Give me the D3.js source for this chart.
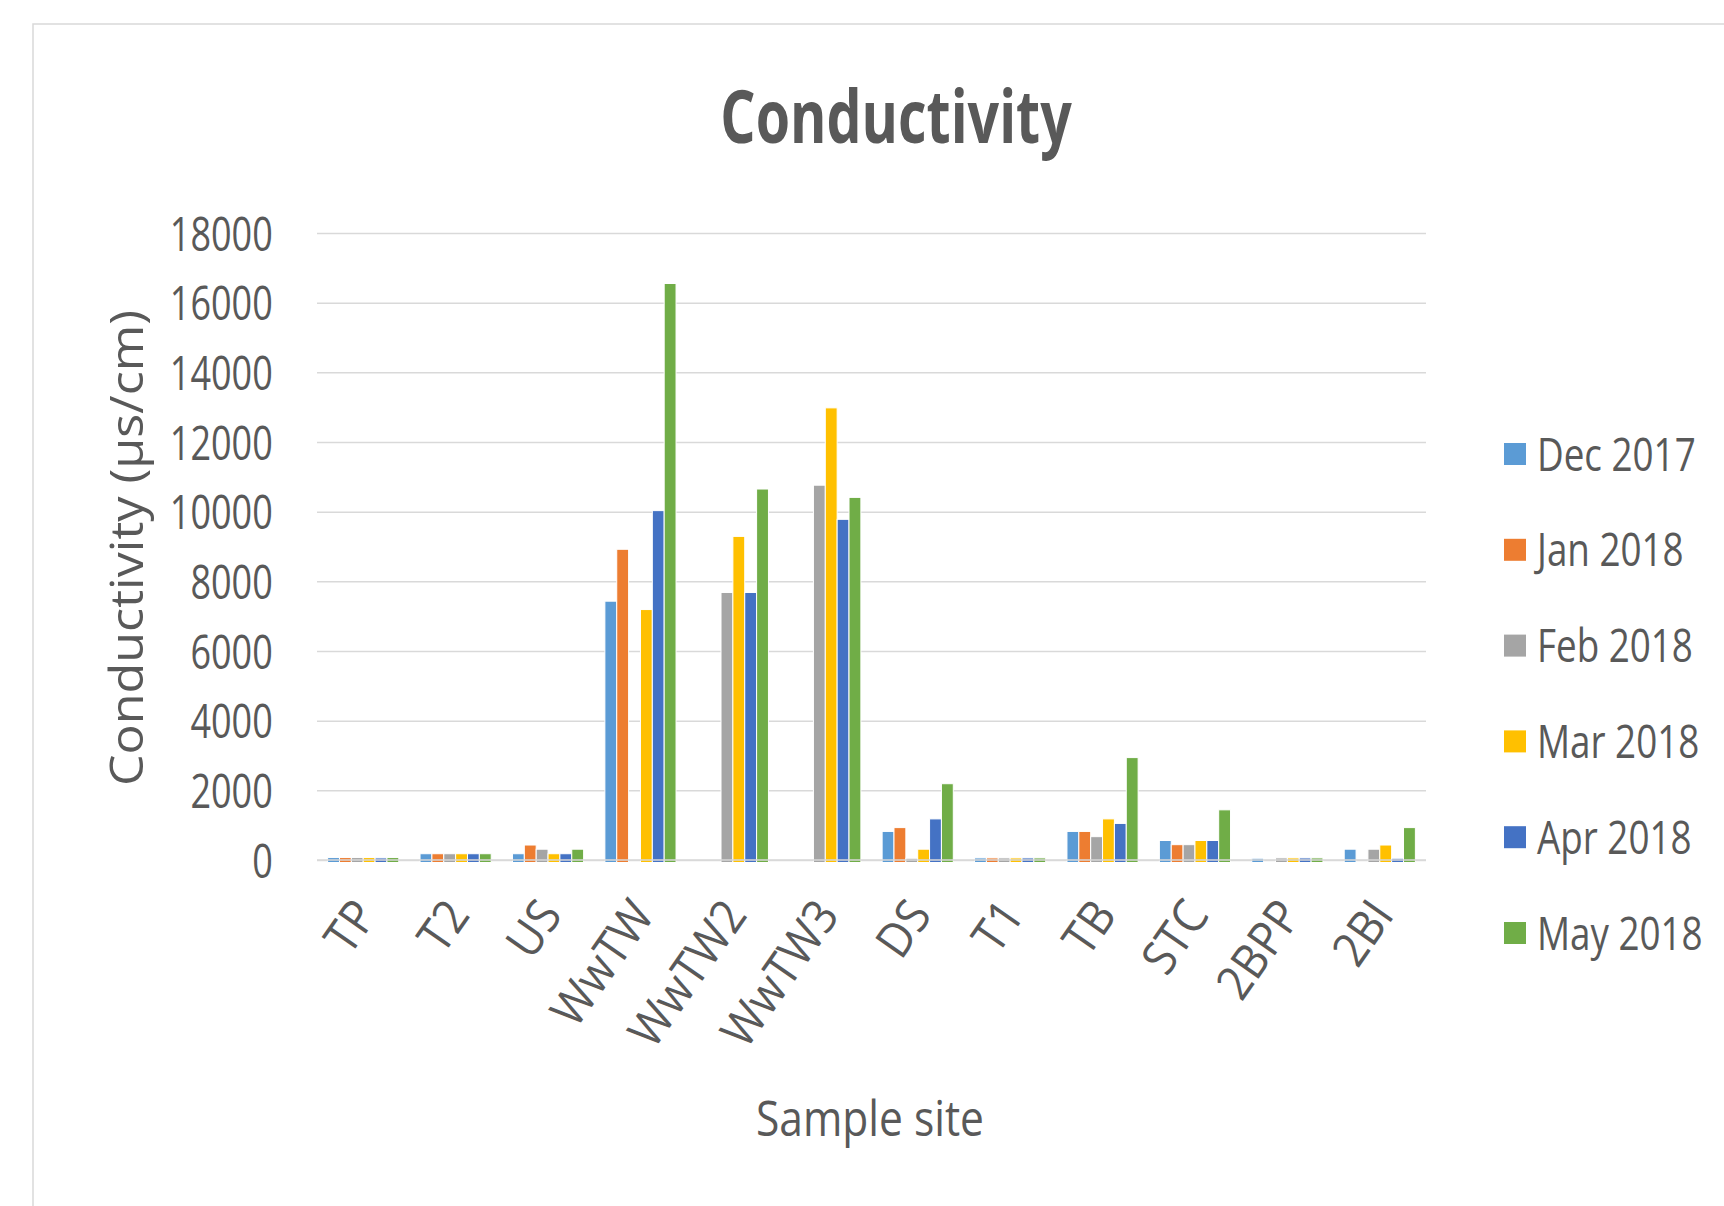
<!DOCTYPE html>
<html>
<head>
<meta charset="utf-8">
<script src="https://cdn.jsdelivr.net/npm/d3@7"></script>
<style>
  body { margin: 0; background: #fff; }
  text { font-family: "Open Sans", sans-serif; fill: #595959; }
</style>
</head>
<body>
<div id="chart"></div>
<script>
const sites = ["TP", "T2", "US", "WwTW", "WwTW2", "WwTW3", "DS", "T1", "TB", "STC", "2BPP", "2BI"];
const months = ["Dec 2017", "Jan 2018", "Feb 2018", "Mar 2018", "Apr 2018", "May 2018"];
const colors = ["#5B9BD5", "#ED7D31", "#A5A5A5", "#FFC000", "#4472C4", "#70AD47"];

const dec2017 = [70, 180, 180, 7430, null, null, 820, 60, 820, 560, 50, 310];
const jan2018 = [70, 180, 430, 8920, null, null, 930, 60, 820, 440, null, null];
const feb2018 = [70, 180, 310, null, 7680, 10760, 50, 60, 670, 440, 60, 310];
const mar2018 = [70, 180, 180, 7190, 9290, 12980, 310, 60, 1180, 560, 60, 430];
const apr2018 = [60, 180, 180, 10030, 7680, 9780, 1180, 60, 1050, 560, 60, 50];
const may2018 = [70, 180, 310, 16550, 10650, 10410, 2190, 60, 2940, 1440, 60, 930];
const yTicks = [0, 2000, 4000, 6000, 8000, 10000, 12000, 14000, 16000, 18000];

const series = [dec2017, jan2018, feb2018, mar2018, apr2018, may2018];

const width = 1724, height = 1206;
const plotLeft = 317, plotRight = 1426, plotTop = 233, plotBottom = 860;
const sx = 0.75; // text in the original is horizontally squeezed

const svg = d3.select("#chart").append("svg")
  .attr("width", width)
  .attr("height", height);

// chart frame (cut off at right/bottom)
svg.append("rect")
  .attr("x", 33).attr("y", 24)
  .attr("width", 2000).attr("height", 2000)
  .attr("fill", "none")
  .attr("stroke", "#d9d9d9")
  .attr("stroke-width", 1.5);

const x0 = d3.scaleBand().domain(sites).range([plotLeft, plotRight]).padding(0);
const gap = x0.bandwidth() * 0.115;
const x1 = d3.scaleBand().domain(months).range([gap, x0.bandwidth() - gap]).padding(0);
const y = d3.scaleLinear().domain([0, 18000]).range([plotBottom, plotTop]);

// y axis + gridlines
const yAxis = svg.append("g")
  .attr("transform", `translate(${plotLeft},0)`)
  .call(d3.axisLeft(y).tickValues(yTicks).tickFormat(d3.format("d"))
    .tickSizeInner(-(plotRight - plotLeft)).tickSizeOuter(0).tickPadding(59));
yAxis.select(".domain").remove();
yAxis.selectAll("line").attr("stroke", "#d9d9d9").attr("stroke-width", 1.5);
yAxis.selectAll("text")
  .style("font-size", "48px")
  .attr("fill", "#595959")
  .attr("dy", "0.36em")
  .attr("transform", `scale(${sx},1)`);

// bars (they run a little below the zero line, which is drawn over them)
const groups = svg.append("g")
  .selectAll("g")
  .data(sites)
  .enter()
  .append("g")
  .attr("transform", d => `translate(${x0(d)},0)`);

groups.selectAll("rect")
  .data((site, i) => months.map((m, j) => ({ m, j, v: series[j][i] })).filter(d => d.v != null))
  .enter()
  .append("rect")
  .attr("x", d => x1(d.m))
  .attr("width", x1.bandwidth())
  .attr("y", d => y(d.v))
  .attr("height", d => y(0) - y(d.v) + 2.5)
  .attr("fill", d => colors[d.j])
  .attr("stroke", "#fff")
  .attr("stroke-width", 1);

svg.append("line")
  .attr("x1", plotLeft).attr("x2", plotRight)
  .attr("y1", y(0)).attr("y2", y(0))
  .attr("stroke", "#d9d9d9")
  .attr("stroke-width", 1.5);

// x axis labels
const xAxis = svg.append("g")
  .attr("transform", `translate(0,${plotBottom})`)
  .call(d3.axisBottom(x0).tickSize(0));
xAxis.select(".domain").remove();
xAxis.selectAll("text")
  .style("font-size", "48px")
  .attr("fill", "#595959")
  .attr("text-anchor", "end")
  .attr("x", 0).attr("y", 0).attr("dy", "0.7em")
  .attr("transform", "translate(-12,36) rotate(-55) scale(0.92,1)");

// title
svg.append("text")
  .attr("transform", `translate(896,143) scale(${sx},1)`)
  .attr("text-anchor", "middle")
  .style("font-size", "74px")
  .style("font-weight", "bold")
  .text("Conductivity");

// axis titles
svg.append("text")
  .attr("x", 870).attr("y", 1136)
  .attr("text-anchor", "middle")
  .attr("textLength", 228)
  .attr("lengthAdjust", "spacingAndGlyphs")
  .style("font-size", "49px")
  .text("Sample site");

svg.append("text")
  .attr("transform", "translate(143,548) rotate(-90)")
  .attr("text-anchor", "middle")
  .attr("textLength", 476)
  .attr("lengthAdjust", "spacingAndGlyphs")
  .style("font-size", "46px")
  .text("Conductivity (µs/cm)");

// legend
const legend = svg.append("g")
  .selectAll("g")
  .data(months)
  .enter()
  .append("g")
  .attr("transform", (d, i) => `translate(1504,${454 + i * 95.8})`);

legend.append("rect")
  .attr("x", 0).attr("y", -11)
  .attr("width", 22).attr("height", 22)
  .attr("fill", (d, i) => colors[i]);

legend.append("text")
  .attr("transform", `translate(33,0) scale(0.8,1)`)
  .attr("dy", "0.36em")
  .style("font-size", "46px")
  .text(d => d);
</script>
</body>
</html>
